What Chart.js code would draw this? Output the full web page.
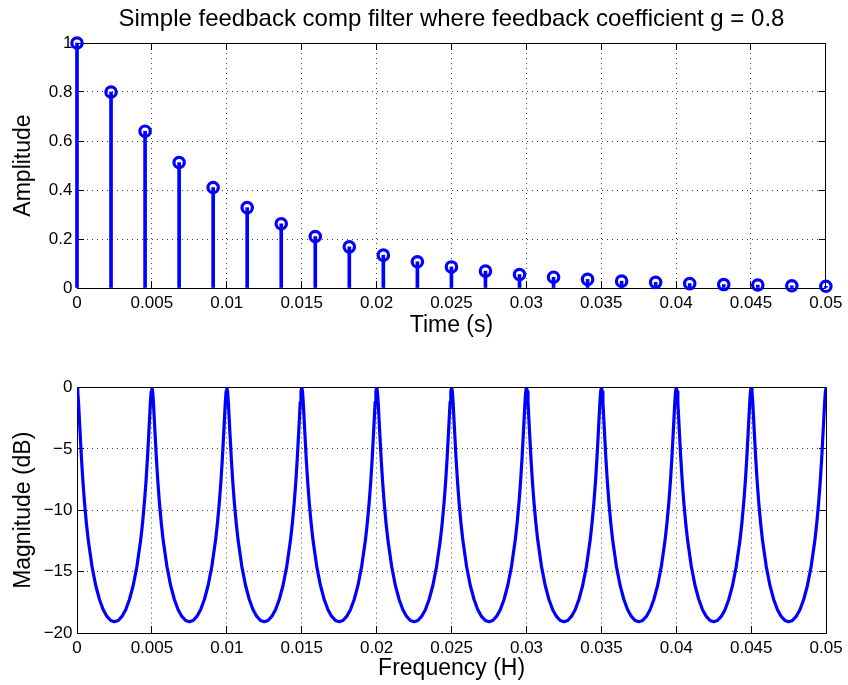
<!DOCTYPE html>
<html>
<head>
<meta charset="utf-8">
<script src="https://cdn.jsdelivr.net/npm/chart.js@4/dist/chart.umd.min.js"></script>
<style>
  html, body { margin: 0; padding: 0; background: #fff; }
  #wrap { position: relative; width: 848px; height: 685px; background: #fff; }
  canvas { position: absolute; left: 0; }
</style>
</head>
<body>
<div id="wrap">
  <canvas id="top" width="848" height="340" style="top:0px"></canvas>
  <canvas id="bot" width="848" height="345" style="top:340px"></canvas>
</div>
<script>
// ---------- data ----------
const titleText = 'Simple feedback comp filter where feedback coefficient g = 0.8';

const stemTimes = [0, 0.0022727, 0.0045455, 0.0068182, 0.0090909, 0.0113636, 0.0136364, 0.0159091,
  0.0181818, 0.0204545, 0.0227273, 0.025, 0.0272727, 0.0295455, 0.0318182, 0.0340909, 0.0363636,
  0.0386364, 0.0409091, 0.0431818, 0.0454545, 0.0477273, 0.05];
const stemAmps = [1, 0.8, 0.64, 0.512, 0.41, 0.328, 0.262, 0.21, 0.168, 0.134, 0.107, 0.086, 0.069,
  0.055, 0.044, 0.035, 0.028, 0.023, 0.018, 0.014, 0.012, 0.009, 0.007];

const timeTickLabels = ['0', '0.005', '0.01', '0.015', '0.02', '0.025', '0.03', '0.035', '0.04', '0.045', '0.05'];
const ampTickLabels = ['0', '0.2', '0.4', '0.6', '0.8', '1'];
const freqTickLabels = ['0', '0.005', '0.01', '0.015', '0.02', '0.025', '0.03', '0.035', '0.04', '0.045', '0.05'];
const dbTickLabels = ['\u221220', '\u221215', '\u221210', '\u22125', '0'];

const magFreq = [
  0, 0.00005, 0.0001, 0.0002, 0.0003, 0.0004, 0.0005, 0.000625, 0.00075, 0.001, 0.00125, 0.0015, 0.00175, 0.002, 0.00225, 0.0025, 0.00275, 0.003, 0.00325, 0.0035, 0.00375, 0.004, 0.00425, 0.004375, 0.0045, 0.0046, 0.0047, 0.0048, 0.0049, 0.00495,
  0.005, 0.00505, 0.0051, 0.0052, 0.0053, 0.0054, 0.0055, 0.005625, 0.00575, 0.006, 0.00625, 0.0065, 0.00675, 0.007, 0.00725, 0.0075, 0.00775, 0.008, 0.00825, 0.0085, 0.00875, 0.009, 0.00925, 0.009375, 0.0095, 0.0096, 0.0097, 0.0098, 0.0099, 0.00995,
  0.01, 0.01005, 0.0101, 0.0102, 0.0103, 0.0104, 0.0105, 0.010625, 0.01075, 0.011, 0.01125, 0.0115, 0.01175, 0.012, 0.01225, 0.0125, 0.01275, 0.013, 0.01325, 0.0135, 0.01375, 0.014, 0.01425, 0.014375, 0.0145, 0.0146, 0.0147, 0.0148, 0.0149, 0.01495,
  0.015, 0.01505, 0.0151, 0.0152, 0.0153, 0.0154, 0.0155, 0.015625, 0.01575, 0.016, 0.01625, 0.0165, 0.01675, 0.017, 0.01725, 0.0175, 0.01775, 0.018, 0.01825, 0.0185, 0.01875, 0.019, 0.01925, 0.019375, 0.0195, 0.0196, 0.0197, 0.0198, 0.0199, 0.01995,
  0.02, 0.02005, 0.0201, 0.0202, 0.0203, 0.0204, 0.0205, 0.020625, 0.02075, 0.021, 0.02125, 0.0215, 0.02175, 0.022, 0.02225, 0.0225, 0.02275, 0.023, 0.02325, 0.0235, 0.02375, 0.024, 0.02425, 0.024375, 0.0245, 0.0246, 0.0247, 0.0248, 0.0249, 0.02495,
  0.025, 0.02505, 0.0251, 0.0252, 0.0253, 0.0254, 0.0255, 0.025625, 0.02575, 0.026, 0.02625, 0.0265, 0.02675, 0.027, 0.02725, 0.0275, 0.02775, 0.028, 0.02825, 0.0285, 0.02875, 0.029, 0.02925, 0.029375, 0.0295, 0.0296, 0.0297, 0.0298, 0.0299, 0.02995,
  0.03, 0.03005, 0.0301, 0.0302, 0.0303, 0.0304, 0.0305, 0.030625, 0.03075, 0.031, 0.03125, 0.0315, 0.03175, 0.032, 0.03225, 0.0325, 0.03275, 0.033, 0.03325, 0.0335, 0.03375, 0.034, 0.03425, 0.034375, 0.0345, 0.0346, 0.0347, 0.0348, 0.0349, 0.03495,
  0.035, 0.03505, 0.0351, 0.0352, 0.0353, 0.0354, 0.0355, 0.035625, 0.03575, 0.036, 0.03625, 0.0365, 0.03675, 0.037, 0.03725, 0.0375, 0.03775, 0.038, 0.03825, 0.0385, 0.03875, 0.039, 0.03925, 0.039375, 0.0395, 0.0396, 0.0397, 0.0398, 0.0399, 0.03995,
  0.04, 0.04005, 0.0401, 0.0402, 0.0403, 0.0404, 0.0405, 0.040625, 0.04075, 0.041, 0.04125, 0.0415, 0.04175, 0.042, 0.04225, 0.0425, 0.04275, 0.043, 0.04325, 0.0435, 0.04375, 0.044, 0.04425, 0.044375, 0.0445, 0.0446, 0.0447, 0.0448, 0.0449, 0.04495,
  0.045, 0.04505, 0.0451, 0.0452, 0.0453, 0.0454, 0.0455, 0.045625, 0.04575, 0.046, 0.04625, 0.0465, 0.04675, 0.047, 0.04725, 0.0475, 0.04775, 0.048, 0.04825, 0.0485, 0.04875, 0.049, 0.04925, 0.049375, 0.0495, 0.0496, 0.0497, 0.0498, 0.0499, 0.04995,
  0.05
];
const magDb = [
  0, -0.33, -1.19, -3.53, -5.81, -7.74, -9.36, -11.04, -12.43, -14.57, -16.13, -17.27, -18.10, -18.65, -18.98, -19.08, -18.98, -18.65, -18.10, -17.27, -16.13, -14.57, -12.43, -11.04, -9.36, -7.74, -5.81, -3.53, -1.19, -0.33,
  0, -0.33, -1.19, -3.53, -5.81, -7.74, -9.36, -11.04, -12.43, -14.57, -16.13, -17.27, -18.10, -18.65, -18.98, -19.08, -18.98, -18.65, -18.10, -17.27, -16.13, -14.57, -12.43, -11.04, -9.36, -7.74, -5.81, -3.53, -1.19, -0.33,
  0, -0.33, -1.19, -3.53, -5.81, -7.74, -9.36, -11.04, -12.43, -14.57, -16.13, -17.27, -18.10, -18.65, -18.98, -19.08, -18.98, -18.65, -18.10, -17.27, -16.13, -14.57, -12.43, -11.04, -9.36, -7.74, -5.81, -3.53, -1.19, -0.33,
  0, -0.33, -1.19, -3.53, -5.81, -7.74, -9.36, -11.04, -12.43, -14.57, -16.13, -17.27, -18.10, -18.65, -18.98, -19.08, -18.98, -18.65, -18.10, -17.27, -16.13, -14.57, -12.43, -11.04, -9.36, -7.74, -5.81, -3.53, -1.19, -0.33,
  0, -0.33, -1.19, -3.53, -5.81, -7.74, -9.36, -11.04, -12.43, -14.57, -16.13, -17.27, -18.10, -18.65, -18.98, -19.08, -18.98, -18.65, -18.10, -17.27, -16.13, -14.57, -12.43, -11.04, -9.36, -7.74, -5.81, -3.53, -1.19, -0.33,
  0, -0.33, -1.19, -3.53, -5.81, -7.74, -9.36, -11.04, -12.43, -14.57, -16.13, -17.27, -18.10, -18.65, -18.98, -19.08, -18.98, -18.65, -18.10, -17.27, -16.13, -14.57, -12.43, -11.04, -9.36, -7.74, -5.81, -3.53, -1.19, -0.33,
  0, -0.33, -1.19, -3.53, -5.81, -7.74, -9.36, -11.04, -12.43, -14.57, -16.13, -17.27, -18.10, -18.65, -18.98, -19.08, -18.98, -18.65, -18.10, -17.27, -16.13, -14.57, -12.43, -11.04, -9.36, -7.74, -5.81, -3.53, -1.19, -0.33,
  0, -0.33, -1.19, -3.53, -5.81, -7.74, -9.36, -11.04, -12.43, -14.57, -16.13, -17.27, -18.10, -18.65, -18.98, -19.08, -18.98, -18.65, -18.10, -17.27, -16.13, -14.57, -12.43, -11.04, -9.36, -7.74, -5.81, -3.53, -1.19, -0.33,
  0, -0.33, -1.19, -3.53, -5.81, -7.74, -9.36, -11.04, -12.43, -14.57, -16.13, -17.27, -18.10, -18.65, -18.98, -19.08, -18.98, -18.65, -18.10, -17.27, -16.13, -14.57, -12.43, -11.04, -9.36, -7.74, -5.81, -3.53, -1.19, -0.33,
  0, -0.33, -1.19, -3.53, -5.81, -7.74, -9.36, -11.04, -12.43, -14.57, -16.13, -17.27, -18.10, -18.65, -18.98, -19.08, -18.98, -18.65, -18.10, -17.27, -16.13, -14.57, -12.43, -11.04, -9.36, -7.74, -5.81, -3.53, -1.19, -0.33,
  0
];

// ---------- styling ----------
const BLUE = '#0000ff';
Chart.defaults.font.family = "'Liberation Sans', Arial, Helvetica, sans-serif";
Chart.defaults.color = '#000';

const frameTicks = {
  id: 'frameTicks',
  beforeDatasetsDraw(chart) {
    const { ctx, chartArea: a, scales } = chart;
    const x = scales.x, y = scales.y;
    const L = 7;
    const al = v => Math.round(v - 0.5) + 0.5;
    ctx.save();
    ctx.strokeStyle = '#000';
    ctx.lineWidth = 1;
    ctx.beginPath();
    x.ticks.forEach(t => {
      const px = al(x.getPixelForValue(t.value));
      ctx.moveTo(px, a.top); ctx.lineTo(px, a.top + L);
      ctx.moveTo(px, a.bottom); ctx.lineTo(px, a.bottom - L);
    });
    y.ticks.forEach(t => {
      const py = al(y.getPixelForValue(t.value));
      ctx.moveTo(a.left, py); ctx.lineTo(a.left + L, py);
      ctx.moveTo(a.right, py); ctx.lineTo(a.right - L, py);
    });
    ctx.rect(al(a.left), al(a.top), al(a.right) - al(a.left), al(a.bottom) - al(a.top));
    ctx.stroke();
    ctx.restore();
  }
};

function gridOpts() {
  return { color: 'rgba(0,0,0,0.75)', lineWidth: 1, drawTicks: false };
}
function borderOpts() {
  return { display: false, dash: [1, 4] };
}

// ---------- top chart: impulse response (stem plot) ----------
new Chart(document.getElementById('top'), {
  type: 'bar',
  data: {
    datasets: [
      {
        type: 'bar',
        data: stemTimes.map((t, i) => ({ x: t, y: stemAmps[i] })),
        backgroundColor: BLUE,
        borderWidth: 0,
        barThickness: 3,
        clip: false
      },
      {
        type: 'line',
        data: stemTimes.map((t, i) => ({ x: t, y: stemAmps[i] })),
        showLine: false,
        pointStyle: 'circle',
        pointRadius: 5.2,
        pointBorderWidth: 3.2,
        pointBorderColor: BLUE,
        pointBackgroundColor: 'rgba(0,0,0,0)',
        clip: false
      }
    ]
  },
  options: {
    responsive: false,
    animation: false,
    devicePixelRatio: 1,
    layout: { padding: { top: 0, right: 20, left: 0, bottom: 0 } },
    plugins: {
      legend: { display: false },
      tooltip: { enabled: false },
      title: {
        display: true,
        fullSize: false,
        text: titleText,
        color: '#000',
        font: { size: 24, weight: 'normal' },
        padding: { top: 4.8, bottom: 9.4 }
      }
    },
    scales: {
      x: {
        type: 'linear',
        offset: false,
        min: 0, max: 0.05,
        grid: Object.assign(gridOpts(), { offset: false }),
        border: borderOpts(),
        ticks: {
          stepSize: 0.005,
          padding: 5.6,
          maxRotation: 0,
          autoSkip: false,
          font: { size: 17 },
          callback: (v, i) => timeTickLabels[i]
        },
        title: { display: true, text: 'Time (s)', font: { size: 23 }, padding: { top: 0, bottom: 0.4 } },
        afterFit: s => { s.height = 52; }
      },
      y: {
        min: 0, max: 1,
        grid: gridOpts(),
        border: borderOpts(),
        ticks: {
          stepSize: 0.2,
          padding: 4.5,
          font: { size: 17 },
          callback: (v, i) => ampTickLabels[i]
        },
        title: { display: true, text: 'Amplitude', font: { size: 23 }, padding: { top: 9.5, bottom: 0 } },
        afterFit: s => { s.width = 77; }
      }
    }
  },
  plugins: [frameTicks]
});

// ---------- bottom chart: magnitude response ----------
new Chart(document.getElementById('bot'), {
  type: 'scatter',
  data: {
    datasets: [{
      data: magFreq.map((f, i) => ({ x: f, y: magDb[i] })),
      showLine: true,
      borderColor: BLUE,
      borderWidth: 3.2,
      borderJoinStyle: 'round',
      pointRadius: 0,
      tension: 0
    }]
  },
  options: {
    responsive: false,
    animation: false,
    devicePixelRatio: 1,
    layout: { padding: { top: 47.5, right: 20, left: 0, bottom: 0 } },
    plugins: {
      legend: { display: false },
      tooltip: { enabled: false }
    },
    scales: {
      x: {
        type: 'linear',
        min: 0, max: 0.05,
        grid: gridOpts(),
        border: borderOpts(),
        ticks: {
          stepSize: 0.005,
          padding: 5.3,
          maxRotation: 0,
          autoSkip: false,
          font: { size: 17 },
          callback: (v, i) => freqTickLabels[i]
        },
        title: { display: true, text: 'Frequency (H)', font: { size: 23 }, padding: { top: 0, bottom: 2.9 } },
        afterFit: s => { s.height = 52; }
      },
      y: {
        min: -20, max: 0,
        grid: gridOpts(),
        border: borderOpts(),
        ticks: {
          stepSize: 5,
          padding: 4.5,
          font: { size: 17 },
          callback: (v, i) => dbTickLabels[i]
        },
        title: { display: true, text: 'Magnitude (dB)', font: { size: 23 }, padding: { top: 9.5, bottom: 0 } },
        afterFit: s => { s.width = 77; }
      }
    }
  },
  plugins: [frameTicks]
});
</script>
</body>
</html>
